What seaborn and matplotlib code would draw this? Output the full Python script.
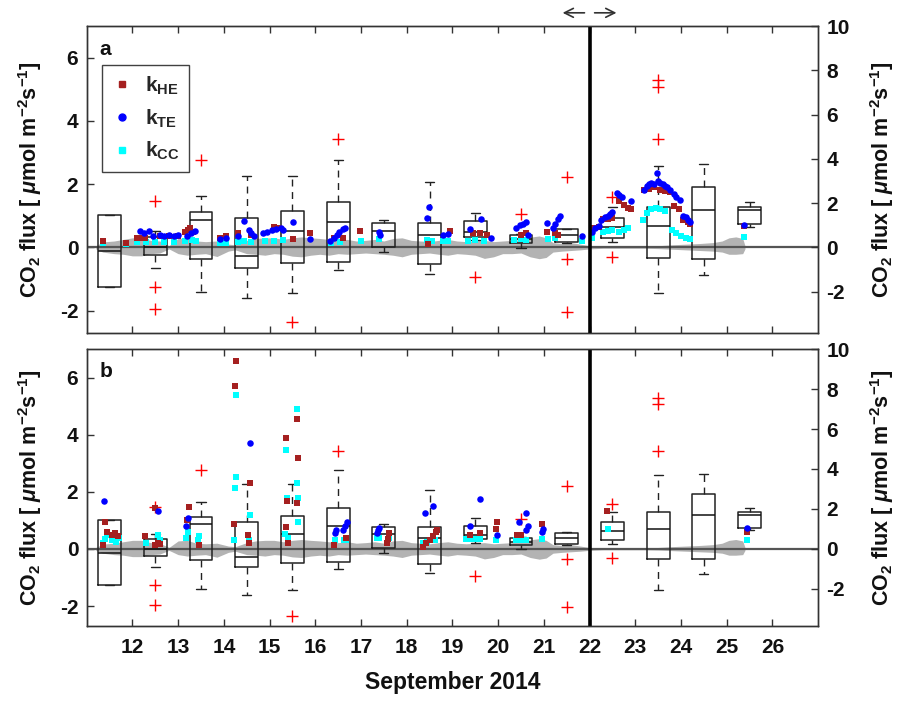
import numpy as np
import matplotlib
matplotlib.use("Agg")
import matplotlib.pyplot as plt
from matplotlib.lines import Line2D
import seaborn as sns

# ---- box statistics (same boxes drawn in both panels) ----
box_pos = [11.5, 12.5, 13.5, 14.5, 15.5, 16.5, 17.5, 18.5, 19.5, 20.5, 21.5, 22.5, 23.5, 24.5, 25.5]
box_q1 = [-1.27, -0.25, -0.38, -0.65, -0.51, -0.46, 0.02, -0.53, 0.33, 0.13, 0.18, 0.31, -0.35, -0.36, 0.74]
box_med = [-0.13, 0.0, 0.86, -0.27, 0.53, 0.79, 0.52, 0.40, 0.49, 0.25, 0.38, 0.63, 0.69, 1.19, 1.19]
box_q3 = [1.01, 0.33, 1.12, 0.93, 1.16, 1.42, 0.76, 0.76, 0.82, 0.38, 0.57, 0.93, 1.28, 1.92, 1.28]
box_lo = [-1.27, -0.64, -1.40, -1.61, -1.45, -0.71, -0.16, -0.83, 0.22, -0.01, 0.15, 0.17, -1.44, -0.87, 0.65]
box_hi = [1.01, 0.51, 1.63, 2.26, 2.26, 2.77, 0.88, 2.06, 1.09, 0.42, 0.58, 1.28, 2.58, 2.63, 1.42]
box_fliers = [[], [1.47, -1.27, -1.95], [2.76], [], [-2.36], [3.44], [], [], [-0.94], [1.06],
              [2.22, -0.36, -2.05], [1.59, -0.32], [5.30, 5.06, 3.44], [], []]

# ---- grey band around zero ----
band_x = [11.2, 11.35, 11.6, 11.8, 12.0, 12.2, 12.4, 12.6, 12.8, 13.0, 13.2, 13.4, 13.6, 13.85, 14.1, 14.25,
          14.5, 14.7, 14.9, 15.1, 15.3, 15.5, 15.7, 15.9, 16.1, 16.3, 16.5, 16.7, 16.9, 17.1, 17.3, 17.5,
          17.7, 17.9, 18.1, 18.3, 18.5, 18.7, 18.9, 19.1, 19.3, 19.5, 19.7, 19.9, 20.1, 20.3, 20.5, 20.7,
          20.9, 21.05, 21.2, 21.4, 21.6, 21.8, 22.0, 22.3, 22.6, 22.9, 23.2, 23.5, 23.8, 24.1, 24.4, 24.7,
          24.9, 25.05, 25.2, 25.35, 25.4]
band_hi = [0.05, 0.17, 0.2, 0.25, 0.3, 0.3, 0.22, 0.2, 0.05, 0.28, 0.3, 0.2, 0.18, 0.2, 0.1, 0.08,
           0.22, 0.28, 0.3, 0.3, 0.25, 0.3, 0.33, 0.3, 0.28, 0.25, 0.22, 0.25, 0.2, 0.22, 0.25, 0.2,
           0.28, 0.3, 0.22, 0.2, 0.18, 0.22, 0.25, 0.2, 0.18, 0.2, 0.22, 0.18, 0.2, 0.22, 0.25, 0.32,
           0.36, 0.3, 0.15, 0.12, 0.15, 0.1, 0.05, 0.04, 0.03, 0.04, 0.03, 0.05, 0.08, 0.1, 0.12, 0.15,
           0.2, 0.3, 0.33, 0.28, 0.05]
band_lo = [-0.05, -0.15, -0.2, -0.22, -0.27, -0.27, -0.2, -0.18, -0.05, -0.2, -0.25, -0.22, -0.2, -0.29, -0.12, -0.08,
           -0.2, -0.22, -0.25, -0.2, -0.22, -0.28, -0.3, -0.25, -0.22, -0.25, -0.2, -0.22, -0.2, -0.18, -0.2, -0.22,
           -0.25, -0.3, -0.22, -0.2, -0.18, -0.22, -0.25, -0.2, -0.22, -0.25, -0.35, -0.3, -0.2, -0.2, -0.18, -0.3,
           -0.36, -0.32, -0.15, -0.12, -0.1, -0.08, -0.05, -0.03, -0.03, -0.03, -0.03, -0.04, -0.06, -0.08, -0.1, -0.12,
           -0.15, -0.22, -0.22, -0.2, -0.05]

# ---- panel a: flux with three gas transfer velocities ----
hea_x = [11.35, 11.86, 12.1, 12.2, 12.28, 12.6, 12.8, 13.0, 13.15, 13.22, 13.26, 13.33, 13.92, 14.05, 14.31,
         14.6, 15.1, 15.2, 15.52, 15.89, 16.4, 16.6, 16.98, 18.46, 18.95, 19.45, 19.6, 19.75, 20.5, 20.6,
         21.07, 21.25, 21.32, 22.1, 22.2, 22.3, 22.4, 22.5, 22.65, 22.75, 22.85, 22.9, 23.2, 23.3, 23.4,
         23.55, 23.65, 23.75, 23.85, 23.95, 24.05, 24.15, 24.2, 25.37]
hea_y = [0.2, 0.15, 0.3, 0.3, 0.3, 0.35, 0.35, 0.35, 0.47, 0.55, 0.6, 0.5, 0.3, 0.37, 0.45,
         0.4, 0.65, 0.6, 0.25, 0.45, 0.3, 0.3, 0.51, 0.1, 0.53, 0.45, 0.45, 0.4, 0.4, 0.45,
         0.48, 0.45, 0.4, 0.6, 0.65, 0.9, 0.9, 0.92, 1.45, 1.35, 1.25, 1.2, 1.8, 1.85, 1.9,
         1.8, 1.78, 1.75, 1.3, 1.2, 0.85, 0.8, 0.75, 0.68]
tea_x = [12.17, 12.25, 12.37, 12.45, 12.6, 12.7, 12.8, 12.9, 13.0, 13.2, 13.28, 13.37, 13.92, 14.05,
         14.31, 14.44, 14.55, 14.6, 14.65, 14.86, 14.95, 15.05, 15.15, 15.25, 15.3, 15.52, 15.89,
         16.33, 16.4, 16.47, 16.53, 16.6, 16.65, 17.4, 17.42, 18.44, 18.49, 18.8, 18.9, 19.39, 19.62, 19.85,
         20.39, 20.47, 20.55, 20.62, 20.66, 21.07, 21.2, 21.25, 21.3, 21.35, 21.84,
         22.06, 22.12, 22.2, 22.26, 22.33, 22.4, 22.45, 22.5, 22.6, 22.65, 22.7, 22.9,
         23.2, 23.25, 23.3, 23.35, 23.4, 23.47, 23.5, 23.55, 23.6, 23.65, 23.7, 23.77, 23.85, 23.9, 23.98,
         24.05, 24.1, 24.15, 24.2, 25.37]
tea_y = [0.53, 0.45, 0.53, 0.35, 0.38, 0.36, 0.38, 0.37, 0.38, 0.35, 0.45, 0.53, 0.25, 0.3,
         0.35, 0.83, 0.56, 0.45, 0.35, 0.45, 0.5, 0.55, 0.58, 0.6, 0.55, 0.8, 0.26,
         0.2, 0.3, 0.4, 0.5, 0.57, 0.62, 0.47, 0.38, 0.92, 1.29, 0.38, 0.42, 0.57, 0.9, 0.3,
         0.6, 0.7, 0.75, 0.8, 0.4, 0.78, 0.6, 0.75, 0.9, 1.0, 0.35,
         0.5, 0.6, 0.67, 0.88, 0.95, 1.0, 1.05, 1.13, 1.72, 1.65, 1.6, 1.45,
         1.8, 1.95, 2.0, 2.05, 2.0, 2.35, 2.1, 2.05, 2.0, 1.95, 1.9, 1.8, 1.7, 1.6, 1.5,
         1.0, 0.95, 0.85, 0.8, 0.72]
cca_x = [11.35, 11.86, 12.1, 12.3, 12.5, 12.7, 12.9, 13.15, 13.3, 13.4, 13.92, 14.05, 14.3, 14.45, 14.6,
         14.9, 15.1, 15.3, 16.35, 16.55, 17.0, 17.4, 18.45, 18.55, 18.8, 18.9, 19.35, 19.5, 19.7, 20.35,
         20.5, 20.6, 21.1, 21.25, 21.84, 22.06, 22.3, 22.4, 22.5, 22.65, 22.75, 22.85, 23.17, 23.26, 23.35,
         23.45, 23.55, 23.65, 23.8, 23.9, 24.0, 24.1, 24.2, 25.37]
cca_y = [0.15, 0.1, 0.17, 0.17, 0.18, 0.17, 0.17, 0.2, 0.22, 0.2, 0.15, 0.15, 0.18, 0.2, 0.18,
         0.2, 0.2, 0.22, 0.15, 0.17, 0.2, 0.25, 0.22, 0.2, 0.19, 0.2, 0.2, 0.22, 0.2, 0.24,
         0.25, 0.24, 0.27, 0.28, 0.2, 0.28, 0.5, 0.52, 0.55, 0.5, 0.55, 0.6, 0.88, 1.1, 1.2,
         1.25, 1.2, 1.15, 0.55, 0.45, 0.35, 0.3, 0.25, 0.33]

# ---- panel b ----
heb_x = [11.4, 11.45, 11.55, 11.62, 11.68, 11.35, 12.28, 12.5, 12.55, 12.6, 12.5, 13.24, 13.2, 13.45,
         14.26, 14.25, 14.22, 14.57, 14.52, 14.55, 15.36, 15.38, 15.35, 15.4, 15.6, 15.62, 15.61,
         16.4, 16.68, 17.58, 17.6, 17.62, 18.36, 18.42, 18.5, 18.58, 18.64, 18.66, 19.39, 19.6,
         19.95, 19.97, 20.42, 20.5, 20.97, 22.38, 25.44]
heb_y = [0.95, 0.6, 0.5, 0.55, 0.45, 0.15, 0.47, 0.15, 0.2, 0.18, 1.45, 1.48, 1.0, 0.12,
         6.6, 5.71, 0.87, 2.3, 0.48, 0.2, 3.9, 1.68, 0.77, 0.2, 4.55, 3.19, 1.6,
         0.12, 0.4, 0.2, 0.35, 0.55, 0.07, 0.2, 0.3, 0.45, 0.6, 0.67, 0.5, 0.55,
         0.7, 0.95, 0.5, 0.5, 0.86, 1.33, 0.6]
teb_x = [11.38, 12.55, 13.22, 13.18, 14.57, 16.43, 16.45, 16.6, 16.65, 16.7, 17.35, 17.38, 17.4, 18.4,
         18.58, 19.39, 19.6, 19.98, 20.45, 20.6, 20.62, 20.65, 20.97, 20.99, 25.44]
teb_y = [1.68, 1.33, 1.1, 0.8, 3.7, 0.55, 0.65, 0.65, 0.8, 0.95, 0.55, 0.65, 0.75, 1.25,
         1.5, 0.8, 1.74, 0.5, 0.93, 1.27, 0.65, 0.8, 0.6, 0.7, 0.75]
ccb_x = [11.35, 11.4, 11.45, 11.55, 11.65, 11.7, 12.3, 12.55, 12.6, 13.22, 13.18, 13.43, 13.46, 14.27,
         14.26, 14.24, 14.22, 14.57, 14.55, 15.35, 15.38, 15.34, 15.4, 15.61, 15.6, 15.62, 15.62,
         16.43, 16.62, 16.68, 17.35, 17.4, 17.62, 18.36, 18.45, 18.55, 18.62, 19.3, 19.4, 19.5, 19.6,
         19.95, 20.4, 20.5, 20.6, 20.97, 22.4, 25.44]
ccb_y = [0.2, 0.35, 0.5, 0.3, 0.25, 0.4, 0.22, 0.5, 0.3, 0.6, 0.37, 0.3, 0.45, 5.38,
         2.53, 2.13, 0.31, 1.19, 0.3, 3.46, 1.8, 0.52, 0.37, 4.9, 2.3, 1.8, 0.95,
         0.3, 0.3, 0.3, 0.4, 0.4, 0.37, 0.2, 0.25, 0.3, 0.3, 0.35, 0.35, 0.35, 0.35,
         0.3, 0.3, 0.3, 0.3, 0.35, 0.69, 0.31]

day_ticks = list(range(12, 27))
left_ticks = [-2, 0, 2, 4, 6]
right_ticks = [-2, 0, 2, 4, 6, 8, 10]

c_he = "#a52020"
c_te = "#0000ff"
c_cc = "#00ffff"

sns.set_theme(style="white")
plt.rcParams["font.family"] = ["Liberation Sans", "DejaVu Sans"]
plt.rcParams["font.weight"] = "bold"
plt.rcParams["mathtext.fontset"] = "custom"
plt.rcParams["mathtext.rm"] = "Liberation Sans:bold"
plt.rcParams["mathtext.bf"] = "Liberation Sans:bold"
plt.rcParams["mathtext.it"] = "Liberation Sans:italic"
plt.rcParams["mathtext.default"] = "bf"

ylab = r"CO$_2$ flux [ $\mathit{\mu}$mol m$^{-2}$s$^{-1}$]"
TICK_FS = 15
YLAB_FS = 15.5

fig = plt.figure(figsize=(9.03, 7.01), dpi=100)
ax_a = fig.add_axes([0.096, 0.5254, 0.810, 0.4375])
ax_b = fig.add_axes([0.096, 0.107, 0.810, 0.395])


def draw_panel(ax, he_x, he_y, te_x, te_y, cc_x, cc_y, letter):
    ax.fill_between(band_x, band_lo, band_hi, color="#b3b3b3", lw=0, zorder=1)
    ax.axhline(0, color="#555555", lw=1.6, zorder=2)
    stats = []
    for i in range(len(box_pos)):
        stats.append(dict(q1=box_q1[i], med=box_med[i], q3=box_q3[i],
                          whislo=box_lo[i], whishi=box_hi[i], fliers=box_fliers[i]))
    ax.bxp(stats, positions=box_pos, widths=0.5, capwidths=0.2, manage_ticks=False,
           boxprops=dict(color="#222222", lw=1.1),
           medianprops=dict(color="#111111", lw=1.1),
           whiskerprops=dict(color="#222222", lw=1.0, ls=(0, (5, 4))),
           capprops=dict(color="#222222", lw=1.0),
           flierprops=dict(marker="+", markeredgecolor="red", markersize=9, markeredgewidth=1.0),
           zorder=3)
    sns.scatterplot(x=he_x, y=he_y, ax=ax, marker="s", color=c_he, s=18, linewidth=0, zorder=5, legend=False)
    sns.scatterplot(x=te_x, y=te_y, ax=ax, marker="o", color=c_te, s=22, linewidth=0, zorder=6, legend=False)
    sns.scatterplot(x=cc_x, y=cc_y, ax=ax, marker="s", color=c_cc, s=18, linewidth=0, zorder=4, legend=False)
    ax.axvline(22, color="black", lw=2.6, zorder=7)
    ax.set_xlim(11, 27)
    ax.set_ylim(-2.7, 7)
    ax.set_xticks(day_ticks)
    ax.set_yticks(left_ticks)
    ax.set_yticklabels([str(t) for t in left_ticks], fontsize=TICK_FS, fontweight="bold")
    ax.tick_params(direction="in", length=5, width=1, color="#333333", top=True, right=False,
                   bottom=True, left=True, pad=6, labelcolor="#111111")
    ax.tick_params(axis="x", pad=9)
    for s in ax.spines.values():
        s.set_color("#333333")
        s.set_linewidth(1.0)
    ax.set_ylabel(ylab, fontsize=YLAB_FS, fontweight="bold", color="#111111")
    ax.yaxis.set_label_coords(-0.058, 0.5)
    ax.text(0.018, 0.955, letter, transform=ax.transAxes, fontsize=15, fontweight="bold",
            va="top", ha="left", color="#111111")

    tw = ax.twinx()
    tw.set_ylim(-2.7 * 10 / 7, 10)
    tw.set_yticks(right_ticks)
    tw.set_yticklabels([str(t) for t in right_ticks], fontsize=TICK_FS, fontweight="bold")
    tw.tick_params(direction="in", length=5, width=1, color="#333333", pad=6, labelcolor="#111111")
    for s in tw.spines.values():
        s.set_color("#333333")
        s.set_linewidth(1.0)
    tw.set_ylabel(ylab, fontsize=YLAB_FS, fontweight="bold", color="#111111")
    tw.yaxis.set_label_coords(1.069, 0.5)
    return tw


draw_panel(ax_a, hea_x, hea_y, tea_x, tea_y, cca_x, cca_y, "a")
draw_panel(ax_b, heb_x, heb_y, teb_x, teb_y, ccb_x, ccb_y, "b")

ax_a.set_xticklabels([])
ax_b.set_xticklabels([str(d) for d in day_ticks], fontsize=TICK_FS, fontweight="bold")
ax_b.set_xlabel("September 2014", fontsize=16.5, fontweight="bold", color="#111111", labelpad=10)

handles = [Line2D([], [], ls="none", marker="s", color=c_he, markersize=5),
           Line2D([], [], ls="none", marker="o", color=c_te, markersize=5),
           Line2D([], [], ls="none", marker="s", color=c_cc, markersize=5)]
labels = [r"k$_{HE}$", r"k$_{TE}$", r"k$_{CC}$"]
leg = ax_a.legend(handles, labels, loc="upper left", bbox_to_anchor=(0.021, 0.872),
                  fontsize=15, frameon=True, fancybox=False, edgecolor="#111111",
                  handlelength=1.0, handletextpad=0.6, labelspacing=0.5, borderpad=0.45,
                  borderaxespad=0)
leg.get_frame().set_linewidth(1.0)
leg.set_zorder(10)

# arrows over the line at the 22nd
ax_a.annotate("", xy=(21.35, 1.043), xytext=(21.95, 1.043), xycoords=("data", "axes fraction"),
              textcoords=("data", "axes fraction"),
              arrowprops=dict(arrowstyle="->", lw=1.2, color="#333333", mutation_scale=16),
              annotation_clip=False)
ax_a.annotate("", xy=(22.65, 1.043), xytext=(22.05, 1.043), xycoords=("data", "axes fraction"),
              textcoords=("data", "axes fraction"),
              arrowprops=dict(arrowstyle="->", lw=1.2, color="#333333", mutation_scale=16),
              annotation_clip=False)

fig.savefig("out.png", dpi=100)
